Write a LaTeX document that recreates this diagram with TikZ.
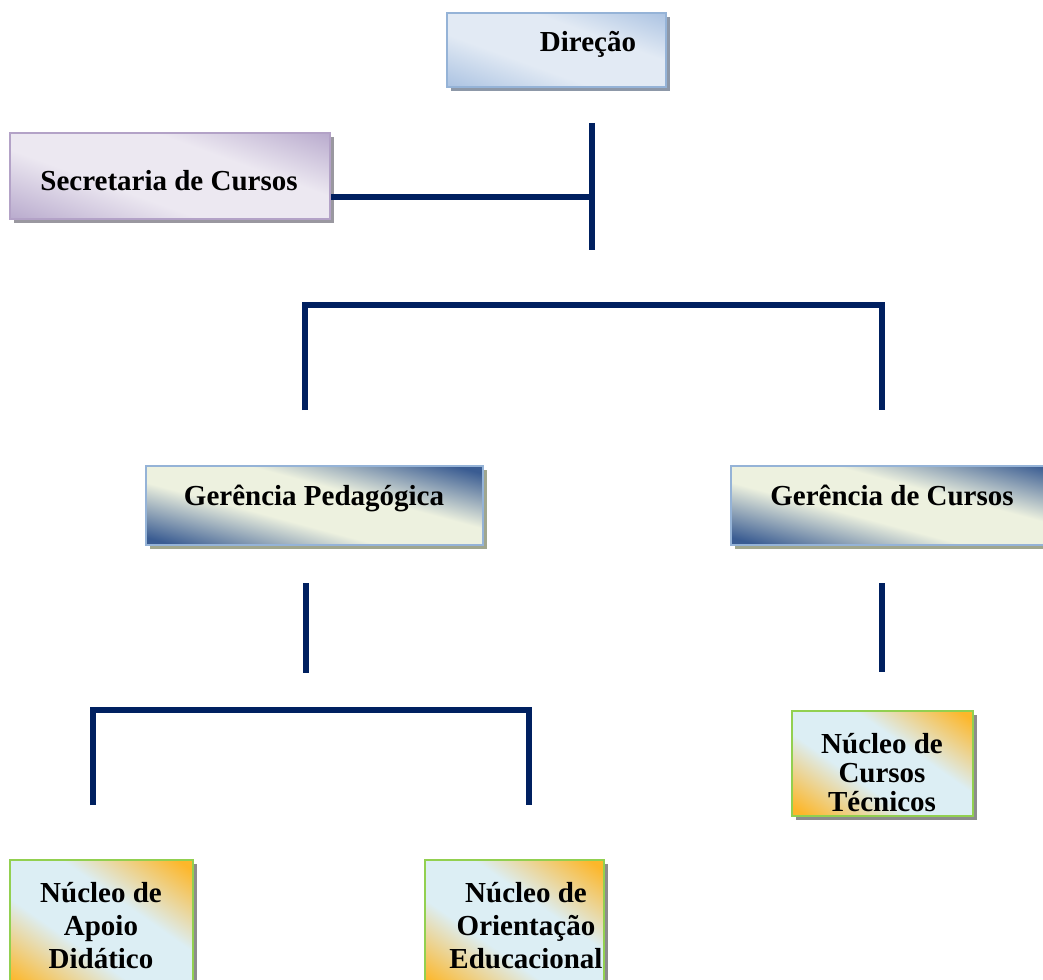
\documentclass[tikz,border=0pt]{standalone}
\usepackage{fontspec}
\setmainfont{Liberation Serif}
\usetikzlibrary{shadows,calc}
\definecolor{navy}{HTML}{002060}
\definecolor{dirDk}{HTML}{A6BFE0}
\definecolor{dirLt}{HTML}{E2EAF4}
\definecolor{dirBd}{HTML}{95B3D7}
\definecolor{dirSh}{HTML}{8D98A8}
\definecolor{secDk}{HTML}{B4A5CA}
\definecolor{secLt}{HTML}{ECE8F1}
\definecolor{secBd}{HTML}{B3A2C7}
\definecolor{secSh}{HTML}{9A98A0}
\definecolor{gerDk}{HTML}{3A5C92}
\definecolor{gerLt}{HTML}{EDF1DF}
\definecolor{gerSh}{HTML}{A0A68E}
\definecolor{nucDk}{HTML}{FDB72A}
\definecolor{nucLt}{HTML}{DCEEF4}
\definecolor{nucBd}{HTML}{92D050}
\definecolor{nucSh}{HTML}{8C8C8C}
\pgfdeclareverticalshading{dirShade}{100bp}{color(0bp)=(dirDk); color(16bp)=(dirDk); color(40bp)=(dirLt); color(62bp)=(dirLt); color(84bp)=(dirDk); color(100bp)=(dirDk)}
\pgfdeclareverticalshading{secShade}{100bp}{color(0bp)=(secDk); color(16bp)=(secDk); color(40bp)=(secLt); color(62bp)=(secLt); color(84bp)=(secDk); color(100bp)=(secDk)}
\pgfdeclareverticalshading{gerShade}{100bp}{color(0bp)=(gerDk); color(22bp)=(gerDk); color(42bp)=(gerLt); color(58bp)=(gerLt); color(78bp)=(gerDk); color(100bp)=(gerDk)}
\pgfdeclareverticalshading{nucShade}{100bp}{color(0bp)=(nucDk); color(18bp)=(nucDk); color(40bp)=(nucLt); color(60bp)=(nucLt); color(82bp)=(nucDk); color(100bp)=(nucDk)}
\tikzset{
  box/.style={rectangle, inner sep=0pt},
  dirbox/.style={box, shading=dirShade, shading angle=-20, draw=dirBd, line width=1pt,
    drop shadow={shadow xshift=2pt, shadow yshift=-2pt, fill=dirSh, opacity=1}},
  secbox/.style={box, shading=secShade, shading angle=-20, draw=secBd, line width=1pt,
    drop shadow={shadow xshift=2pt, shadow yshift=-2pt, fill=secSh, opacity=1}},
  gerbox/.style={box, shading=gerShade, shading angle=-15, draw=dirBd, line width=1pt,
    drop shadow={shadow xshift=2pt, shadow yshift=-2pt, fill=gerSh, opacity=1}},
  nucbox/.style={box, shading=nucShade, shading angle=-35, draw=nucBd, line width=1.4pt,
    drop shadow={shadow xshift=2pt, shadow yshift=-2pt, fill=nucSh, opacity=1}},
  lbl/.style={inner sep=0pt, font=\bfseries\fontsize{14.5}{14.5}\selectfont},
  mlbl/.style={inner sep=0pt, align=center, font=\bfseries\fontsize{14.5}{14.5}\selectfont},
  mlblb/.style={inner sep=0pt, align=center, font=\bfseries\fontsize{14.5}{16.5}\selectfont},
  conn/.style={draw=navy, line width=3pt, line join=miter},
}
\begin{document}
\begin{tikzpicture}[x=0.5pt, y=-0.5pt]
\useasboundingbox (0,0) rectangle (1043,979);
\clip (0,0) rectangle (1043,979);
% boxes
\node[dirbox, minimum width=109.5pt, minimum height=37pt] (dir) at (556.5,50) {};
\node[secbox, minimum width=160pt, minimum height=43pt] (sec) at (170,176) {};
\node[gerbox, minimum width=168.5pt, minimum height=39.5pt] (gp) at (314.5,505.5) {};
\node[gerbox, minimum width=169.5pt, minimum height=39.5pt] (gc) at (900.5,505.5) {};
\node[nucbox, minimum width=90.5pt, minimum height=52.5pt] (nct) at (882.5,763.5) {};
\node[nucbox, minimum width=91.5pt, minimum height=65pt] (nad) at (101.5,925) {};
\node[nucbox, minimum width=89.5pt, minimum height=65pt] (noe) at (514.5,925) {};
% labels
\node[lbl, anchor=base] (tdir) at (588,52) {Direção};
\node[lbl, anchor=base] (tsec) at (169,190) {Secretaria de Cursos};
\node[lbl, anchor=base] (tgp) at (314,505) {Gerência Pedagógica};
\node[lbl, anchor=base] (tgc) at (892,505) {Gerência de Cursos};
\node[mlbl] (tnct) at (882,773) {Núcleo de\\Cursos\\Técnicos};
\node[mlblb] (tnad) at (101,926) {Núcleo de\\Apoio\\Didático};
\node[mlblb] (tnoe) at (526,926) {Núcleo de\\Orientação\\Educacional};
% connector coordinates
\coordinate (trT) at (592,123);
\coordinate (trB) at (592,250);
\coordinate (trJ) at (592,197);
\coordinate (b1L) at (305,410);
\coordinate (b1R) at (882,410);
\coordinate (b1Y) at (0,305);
\coordinate (gpT) at (306,583);
\coordinate (gpB) at (306,673);
\coordinate (gcT) at (882,583);
\coordinate (gcB) at (882,672);
\coordinate (b2L) at (93,805);
\coordinate (b2R) at (529,805);
\coordinate (b2Y) at (0,710);
% connectors
\draw[conn] (trT) -- (trB);
\draw[conn] (sec.east |- trJ) -- (trJ);
\draw[conn] (b1L) -- (b1L |- b1Y) -- (b1R |- b1Y) -- (b1R);
\draw[conn] (gpT) -- (gpB);
\draw[conn] (gcT) -- (gcB);
\draw[conn] (b2L) -- (b2L |- b2Y) -- (b2R |- b2Y) -- (b2R);
\end{tikzpicture}
\end{document}
